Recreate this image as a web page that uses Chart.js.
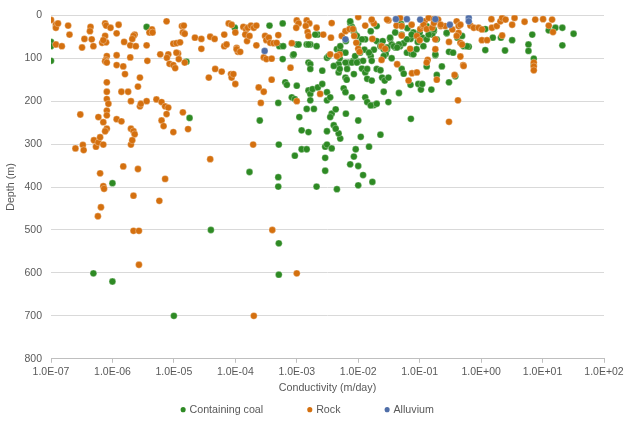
<!DOCTYPE html>
<html><head><meta charset="utf-8">
<script src="https://cdn.jsdelivr.net/npm/chart.js@4.4.1/dist/chart.umd.min.js"></script>
<style>html,body{margin:0;padding:0;background:#fff;}#wrap{width:634px;height:425px;position:relative;}</style>
</head><body><div id="wrap"><canvas id="c"></canvas></div>
<script>
const seriesNames = ['Containing coal', 'Rock', 'Alluvium'];
const seriesColors = ['#2E8A24', '#D4700F', '#4F6EA8'];
// [conductivity (m/day), depth (m)]
const coalData = [
[1.0e-7,62],[1.0e-7,72],[1.0e-7,106],[3.6e-6,27],[1.8e-5,239],[1.6e-5,108],[1.0e-6,391],[4.9e-7,601],[1.0e-6,620],[1.0e-5,700],
[4.0e-5,500],[9.8e-5,29],[3.6e-4,24],[5.9e-4,19],[1.7e-4,365],[5.1e-4,301],[5.0e-4,377],[5.0e-4,399],[5.1e-4,531],[5.1e-4,604],
[2.5e-4,245],[5.0e-4,204],[5.2e-4,72],[1.0e-3,68],[1.45e-3,68],[1.66e-3,68],[2.2e-3,45],[5.9e-4,102],[8.7e-4,93],[1.55e-3,110],
[1.66e-3,114],[1.66e-3,125],[2.6e-3,129],[3.1e-3,99],[4.5e-3,79],[5.1e-3,83],[6.2e-3,87],[6.9e-3,110],[8.3e-3,106],[1.0e-2,108],
[1.2e-2,106],[7.4e-3,18],[7.9e-3,27],[8.5e-3,39],[8.9e-3,45],[1.3e-2,56],[1.5e-2,87],[1.6e-2,95],[1.66e-2,106],[2.0e-2,60],
[2.3e-2,70],[2.95e-2,79],[3.3e-2,55],[3.5e-2,68],[4.0e-2,75],[4.8e-2,72],[5.5e-2,65],[6.2e-2,87],[7.4e-2,90],[8.5e-2,48],
[9.3e-2,62],[4.8e-3,114],[4.8e-3,133],[5.0e-3,125],[6.2e-3,145],[6.5e-3,150],[8.5e-3,137],[1.15e-2,124],[1.3e-2,133],[1.4e-2,148],
[1.66e-2,152],[2.0e-2,125],[2.3e-2,128],[2.45e-2,145],[2.7e-2,152],[3.1e-2,145],[5.1e-2,125],[5.5e-2,136],[7.1e-2,162],[9.5e-2,160],
[1.05e-1,173],[6.5e-4,156],[6.9e-4,162],[1.0e-3,164],[8.3e-4,191],[9.3e-4,195],[1.55e-3,175],[1.66e-3,183],[1.8e-3,172],[2.2e-3,168],
[2.6e-3,160],[3.1e-3,179],[1.66e-3,198],[3.1e-3,198],[3.5e-3,191],[5.8e-3,170],[6.2e-3,179],[7.9e-3,191],[1.3e-2,191],[1.4e-2,202],
[1.8e-2,209],[1.6e-2,210],[2.0e-2,206],[2.6e-2,178],[4.6e-2,181],[3.1e-2,202],[1.1e-3,237],[1.45e-3,218],[1.9e-3,218],[3.7e-3,229],
[4.3e-3,219],[3.5e-3,237],[6.3e-3,229],[1.0e-2,245],[1.1e-2,283],[5.1e-3,287],[4.8e-3,275],[1.2e-3,268],[1.55e-3,272],[3.1e-3,270],
[4.0e-3,256],[4.3e-3,264],[7.2e-2,241],[9.3e-4,327],[1.2e-3,312],[1.45e-3,312],[2.9e-3,306],[3.1e-3,301],[3.7e-3,310],[2.9e-3,332],
[2.9e-3,362],[9.1e-3,312],[8.5e-3,329],[7.4e-3,347],[1.0e-2,351],[1.5e-2,306],[1.2e-2,372],[1.7e-2,388],[1.0e-2,396],[4.5e-3,405],
[2.1e-3,399],[2.3e-2,278],[1.1e-1,52],[1.3e-1,56],[1.5e-1,33],[1.7e-1,37],[1.6e-1,45],[2.75e-1,42],[4.1e-1,52],[5.2e-1,72],
[6.3e-1,73],[3.0e-1,85],[1.8e-1,93],[1.3e-1,119],[2.3e-1,119],[1.9e-1,139],[3.8e-1,142],[3.0e-1,156],[1.1e-1,160],[1.55e-1,173],
[1.17,32],[1.55,52],[2.1,52],[1.17,81],[2.45,82],[3.2,58],[6.8,45],[5.9,68],[5.9,83],[7.2,101],
[7.2,115],[12.6,35],[16.2,29],[21,29],[21,70],[32,43],[5.0e-2,20],[6.3e-2,30],[7.9e-2,40],[7.1e-2,55],
[1.0e-1,40],[1.26e-1,25],[4.0e-2,40],[2.5e-2,60],[1.8e-2,80],[2.8e-2,90],[3.5e-2,100],[6.3e-3,60],[1.0e-2,65],[1.26e-2,80],
[5.0e-3,100],[4.0e-3,118],[8.9e-3,95],
[7.4e-3,14],[8.3e-3,33],[9.5e-3,48],[1.15e-2,56],[1.6e-2,37],[2.0e-2,25],[3.3e-2,52],[3.8e-2,72],[4.6e-2,68],[5.1e-2,45],
[5.1e-2,25],[6.2e-2,56],[7.4e-2,45],[7.9e-2,91],[8.9e-2,79],[1.15e-1,72],[1.4e-1,45],[1.7e-1,33],[1.8e-1,91],[1.9e-1,56],
[2.75e-1,41],[3.5e-1,87],[4.9e-1,48],[5.9e-1,72],[1.3e-1,25],[1.5e-2,87],[1.07e-2,87],[5.1e-3,72],[6.2e-3,110],[6.6e-3,125],
[7.9e-3,110],[9.5e-3,110],[2.3e-2,72],[2.6e-2,79],[2.95e-2,75],[4.3e-2,75],[2.6e-2,95],[1.4e-2,125],[2.0e-3,45],[1.55e-3,68],
[1.07e-3,68],[6.0e-4,72],[8.9e-4,91],[2.1e-3,72],[3.3e-3,95]
];
const rockData = [
[1.0e-7,11],[1.2e-7,22],[1.2e-7,29],[1.3e-7,19],[1.9e-7,24],[2.0e-7,45],[1.2e-7,68],[1.5e-7,72],[3.2e-7,75],[4.4e-7,27],
[4.3e-7,37],[3.5e-7,55],[4.6e-7,56],[4.9e-7,72],[7.6e-7,19],[7.9e-7,24],[9.3e-7,29],[1.26e-6,22],[1.17e-6,42],[7.6e-7,48],
[6.8e-7,64],[7.9e-7,63],[7.1e-7,58],[1.55e-6,62],[1.95e-6,70],[2.3e-6,45],[2.2e-6,48],[2.4e-6,72],[2.1e-6,55],[4.4e-6,33],
[4.0e-6,40],[4.5e-6,40],[7.6e-6,14],[3.6e-6,70],[6.0e-6,91],[8.1e-6,91],[1.17e-5,89],[9.8e-6,66],[1.1e-5,65],[1.26e-5,63],
[1.35e-5,25],[1.45e-5,24],[1.4e-5,40],[1.5e-5,43],[2.2e-5,52],[2.8e-5,55],[2.8e-5,78],[3.9e-5,50],[4.6e-5,55],[6.6e-5,45],
[6.6e-5,72],[7.2e-5,68],[7.8e-5,19],[1.05e-4,76],[1.1e-4,85],[1.5e-5,110],[8.1e-7,95],[7.8e-7,104],[7.6e-7,107],[8.1e-7,110],
[1.17e-6,93],[1.17e-6,116],[1.5e-6,119],[1.6e-6,137],[1.95e-6,98],[3.7e-6,106],[2.8e-6,145],[2.6e-6,166],[8.1e-7,156],[8.1e-7,178],
[8.1e-7,195],[1.4e-6,178],[1.8e-6,178],[2.0e-6,200],[2.8e-6,212],[2.9e-6,206],[3.6e-6,200],[5.2e-6,196],[6.3e-6,202],[7.2e-6,212],
[8.1e-6,215],[7.6e-6,230],[6.3e-6,245],[6.8e-6,258],[9.8e-6,272],[1.4e-5,226],[1.7e-5,265],[7.7e-6,99],[8.5e-6,113],[9.8e-6,116],
[1.05e-5,123],[1.2e-5,102],[1.1e-5,87],[3.7e-5,145],[4.7e-5,125],[6.0e-5,131],[8.5e-5,137],[8.7e-5,145],[1.0e-4,160],[8.1e-7,222],
[8.6e-7,206],[8.1e-7,233],[5.9e-7,237],[3.0e-7,231],[1.17e-6,242],[1.4e-6,247],[7.1e-7,249],[8.1e-7,264],[7.6e-7,270],[2.0e-6,264],
[2.2e-6,270],[2.3e-6,277],[2.5e-7,310],[3.3e-7,302],[3.4e-7,314],[5.0e-7,291],[5.4e-7,306],[5.9e-7,296],[6.3e-7,284],[7.1e-7,301],
[2.0e-6,301],[2.1e-6,291],[3.9e-5,335],[1.5e-6,352],[2.6e-6,358],[6.3e-7,368],[7.2e-6,381],[7.1e-7,398],[7.3e-7,404],[2.2e-6,420],
[5.8e-6,432],[6.5e-7,447],[5.8e-7,468],[2.2e-6,502],[2.7e-6,502],[2.7e-6,581],[1.95e-4,301],[4.0e-4,500],[1.0e-3,601],[2.0e-4,700],
[8.7e-5,22],[1.35e-4,27],[1.5e-4,33],[1.6e-4,29],[1.8e-4,24],[2.0e-4,29],[2.2e-4,24],[1.45e-4,45],[1.55e-4,60],[1.7e-4,48],
[2.2e-4,70],[3.05e-4,48],[3.2e-4,58],[3.5e-4,52],[3.7e-4,64],[4.2e-4,65],[4.7e-4,64],[5.0e-4,46],[2.9e-4,98],[3.2e-4,102],
[3.9e-4,101],[1.05e-4,79],[1.2e-4,85],[9.3e-5,137],[2.4e-4,168],[2.9e-4,178],[2.6e-4,204],[3.9e-4,150],[7.9e-4,122],[8.3e-4,65],
[1.0e-3,12],[1.07e-3,19],[9.8e-4,29],[1.45e-3,12],[1.6e-3,19],[1.4e-3,25],[1.5e-3,39],[1.55e-3,48],[2.1e-3,29],[2.7e-3,45],
[3.7e-3,18],[3.6e-3,52],[3.5e-3,91],[5.0e-3,91],[4.5e-3,95],[5.4e-3,48],[6.2e-3,37],[7.2e-3,32],[8.2e-3,32],[8.6e-3,48],
[1.0e-2,4],[9.3e-3,64],[1.0e-2,78],[1.05e-2,85],[1.3e-2,24],[1.66e-2,12],[1.8e-2,19],[1.7e-2,55],[2.4e-2,72],[2.75e-2,78],
[3.1e-2,12],[2.4e-2,104],[4.3e-2,114],[4.2e-2,24],[5.1e-2,25],[5.1e-2,47],[7.0e-2,78],[7.5e-2,135],[9.0e-2,133],[6.6e-2,152],
[9.0e-2,48],[1.0e-1,58],[1.02e-1,32],[1.13e-1,25],[2.4e-3,183],[1.0e-3,200],[1.2e-1,14],[1.4e-1,6],[1.7e-1,9],[2.0e-1,10],
[1.16e-1,22],[1.3e-1,32],[1.6e-1,29],[1.8e-1,56],[1.8e-1,79],[1.35e-1,104],[1.3e-1,110],[1.9e-1,150],[2.2e-1,25],[2.6e-1,25],
[3.0e-1,62],[3.4e-1,33],[4.0e-1,14],[4.3e-1,25],[4.3e-1,41],[4.0e-1,48],[4.6e-1,64],[4.6e-1,96],[5.1e-1,116],[3.7e-1,139],
[4.2e-1,198],[3.0e-1,248],[6.7e-1,24],[7.6e-1,29],[9.1e-1,29],[1.03,33],[1.03,58],[1.25,58],[1.47,9],[1.5,29],
[1.8,25],[2.06,14],[2.2,6],[2.5,10],[2.2,47],[3.2,22],[3.5,6],[5.1,15],[7.6,10],[10.2,9],
[14.3,10],[12.6,24],[14.8,39],[7.2,110],[7.2,119],[7.2,128],[1.0e-4,40],
[1.66e-2,10],[2.95e-2,10],[4.8e-2,6],[7.4e-2,22],[1.7e-1,18],[2.2e-1,22],[4.6e-1,22],[4.9e-1,68],[5.2e-1,118]
];
const alluviumData = [
[3.0e-4,83],[6.2e-3,56],[4.1e-2,9],[6.2e-2,9],[1.02e-1,10],[1.8e-1,9],[3.1e-1,22],[6.3e-1,6],[6.3e-1,14]
];
const xTickValues = [1e-7, 1e-6, 1e-5, 1e-4, 1e-3, 1e-2, 1e-1, 1e0, 1e1, 1e2];
const yTickValues = [0, 100, 200, 300, 400, 500, 600, 700, 800];
const xTitle = 'Conductivity (m/day)';
const yTitle = 'Depth (m)';

const FONT = "'Liberation Sans', Arial, sans-serif";
const TXT = '#595959';
Chart.defaults.font.family = FONT;

function fmtSci(v) {
  const e = Math.round(Math.log10(v));
  const sign = e < 0 ? '-' : '+';
  return '1.0E' + sign + String(Math.abs(e)).padStart(2, '0');
}
const toPts = arr => arr.map(p => ({x: p[0], y: p[1]}));
const allData = [coalData, rockData, alluviumData];
const drawOrder = [2, 1, 0];
const legendGap = '            ';

const datasets = seriesNames.map((name, i) => ({
  label: name,
  data: toPts(allData[i]),
  backgroundColor: seriesColors[i],
  borderColor: 'rgba(255,255,255,0.5)',
  borderWidth: 0.6,
  pointRadius: 3.4,
  pointHoverRadius: 3.4,
  showLine: false,
  order: drawOrder[i]
}));

new Chart(document.getElementById('c'), {
  type: 'scatter',
  data: {datasets},
  options: {
    responsive: true,
    maintainAspectRatio: false,
    animation: false,
    layout: {padding: {left: 12, right: 30, top: 12, bottom: 0}},
    plugins: {
      tooltip: {enabled: false},
      legend: {
        position: 'bottom',
        labels: {
          usePointStyle: true,
          boxWidth: 2,
          boxHeight: 3.6,
          padding: 10,
          color: TXT,
          font: {size: 10.7, family: FONT},
          generateLabels: (chart) => chart.data.datasets.map((ds, i) => ({
            text: ds.label + (i < chart.data.datasets.length - 1 ? legendGap : ''),
            fillStyle: ds.backgroundColor,
            strokeStyle: ds.backgroundColor,
            lineWidth: 0,
            pointStyle: 'circle',
            hidden: false,
            datasetIndex: i,
            fontColor: TXT
          }))
        }
      }
    },
    scales: {
      x: {
        type: 'logarithmic',
        position: 'bottom',
        min: 1e-7,
        max: 1e2,
        afterBuildTicks: s => { s.ticks = xTickValues.map(v => ({value: v})); },
        afterFit: s => { s.height = 35.5; },
        ticks: {
          callback: v => fmtSci(v),
          autoSkip: false,
          maxRotation: 0,
          padding: 3,
          color: TXT,
          font: {size: 10.5, family: FONT}
        },
        grid: {drawOnChartArea: false, drawTicks: true, tickLength: 4, color: '#bfbfbf'},
        border: {color: '#bfbfbf'},
        title: {display: true, text: xTitle, color: TXT, font: {size: 10.7, family: FONT}, padding: {top: 0, bottom: 0}}
      },
      y: {
        type: 'linear',
        reverse: true,
        min: 0,
        max: 800,
        afterBuildTicks: s => { s.ticks = yTickValues.map(v => ({value: v})); },
        afterFit: s => { s.width = 39; },
        ticks: {padding: 9, color: TXT, font: {size: 10.5, family: FONT}},
        grid: {color: '#d9d9d9', drawTicks: false},
        border: {display: false},
        title: {display: true, text: yTitle, color: TXT, font: {size: 10.7, family: FONT}, padding: {top: -7, bottom: 0}}
      }
    }
  }
});
</script>
</body></html>
